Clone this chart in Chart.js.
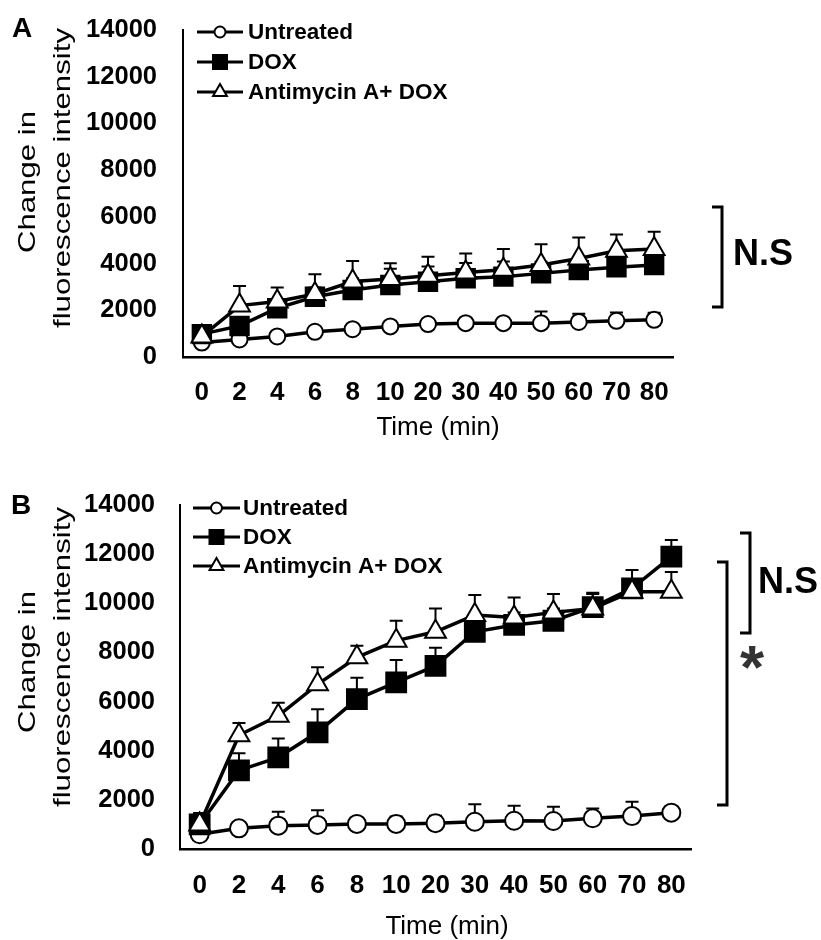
<!DOCTYPE html>
<html><head><meta charset="utf-8">
<script src="https://cdn.jsdelivr.net/npm/chart.js@4.4.1/dist/chart.umd.min.js"></script>
<style>
html,body{margin:0;padding:0;background:#fff;width:821px;height:940px;overflow:hidden}
canvas{position:absolute;left:0}
#cA{top:0}
#cB{top:470px}
</style></head><body>
<canvas id="cA" width="821" height="470" style="width:821px;height:470px"></canvas>
<canvas id="cB" width="821" height="470" style="width:821px;height:470px"></canvas>
<script>
// ---------- data ----------
const timeLabels = ['0','2','4','6','8','10','20','30','40','50','60','70','80'];
const yTickValues = [0, 2000, 4000, 6000, 8000, 10000, 12000, 14000];
const seriesNames = ['Untreated', 'DOX', 'Antimycin A+ DOX'];

// Panel A
const untreatedA     = [620, 750, 880, 1080, 1190, 1310, 1410, 1450, 1450, 1450, 1500, 1550, 1590];
const untreatedA_err = [100, 100, 100, 100, 100, 150, 150, 200, 200, 500, 350, 350, 300];
const doxA           = [980, 1330, 2090, 2580, 2870, 3080, 3220, 3370, 3440, 3580, 3720, 3840, 3940];
const doxA_err       = [200, 300, 300, 400, 500, 700, 650, 650, 650, 500, 450, 400, 400];
const antiA          = [880, 2200, 2380, 2700, 3230, 3340, 3480, 3620, 3740, 3940, 4220, 4550, 4620];
const antiA_err      = [400, 840, 600, 845, 880, 670, 810, 815, 880, 890, 900, 700, 740];

// Panel B
const untreatedB     = [600, 840, 950, 980, 1020, 1020, 1050, 1110, 1150, 1140, 1250, 1340, 1480];
const untreatedB_err = [300, 200, 570, 600, 200, 300, 300, 710, 610, 580, 400, 580, 200];
const doxB           = [1000, 3200, 3730, 4750, 6100, 6780, 7450, 8840, 9120, 9290, 9840, 10610, 11900];
const doxB_err       = [300, 700, 770, 940, 870, 910, 745, 600, 500, 500, 540, 745, 680];
const antiB          = [1000, 4630, 5420, 6700, 7800, 8480, 8840, 9520, 9420, 9630, 9790, 10470, 10470];
const antiB_err      = [470, 500, 530, 700, 475, 810, 950, 820, 820, 750, 640, 500, 800];

// ---------- helpers ----------
const FONT = '"Liberation Sans", Arial, Helvetica, sans-serif';

const errorBars = {
  id: 'errorBars',
  beforeDatasetsDraw(chart) {
    const ctx = chart.ctx, ys = chart.scales.y;
    chart.data.datasets.forEach((ds, di) => {
      if (!ds.errors) return;
      const meta = chart.getDatasetMeta(di);
      ctx.save();
      ctx.strokeStyle = '#000';
      ctx.lineWidth = 2;
      meta.data.forEach((pt, i) => {
        const v = ds.data[i], e = ds.errors[i];
        const y0 = ys.getPixelForValue(v), y1 = ys.getPixelForValue(v + e);
        ctx.beginPath();
        ctx.moveTo(pt.x, y0); ctx.lineTo(pt.x, y1);
        ctx.moveTo(pt.x - 6.5, y1); ctx.lineTo(pt.x + 6.5, y1);
        ctx.stroke();
      });
      ctx.restore();
    });
  }
};

function legendMarker(ctx, style, x, y, size, fill) {
  ctx.beginPath();
  if (style === 'circle') ctx.arc(x, y, size, 0, Math.PI * 2);
  else if (style === 'rect') ctx.rect(x - size, y - size, 2 * size, 2 * size);
  else {
    ctx.moveTo(x, y - size);
    ctx.lineTo(x + size * 0.866, y + size / 2);
    ctx.lineTo(x - size * 0.866, y + size / 2);
    ctx.closePath();
  }
  ctx.fillStyle = fill; ctx.fill();
  ctx.lineWidth = 2; ctx.strokeStyle = '#000'; ctx.stroke();
}

const decor = {
  id: 'decor',
  afterDraw(chart, args, o) {
    const ctx = chart.ctx, ys = chart.scales.y, ca = chart.chartArea;
    ctx.save();
    ctx.fillStyle = '#000';
    // panel letter
    ctx.font = 'bold 28px ' + FONT;
    ctx.textAlign = 'center'; ctx.textBaseline = 'middle';
    ctx.fillText(o.letter, o.letterX, o.letterY);
    // y axis title (two lines, rotated)
    o.yTitle.forEach(t => {
      ctx.save();
      ctx.translate(t.x, t.y);
      ctx.rotate(-Math.PI / 2);
      ctx.scale(o.yTitleStretch, 1);
      ctx.font = '24px ' + FONT;
      ctx.textAlign = 'center'; ctx.textBaseline = 'middle';
      ctx.fillText(t.text, 0, 0);
      ctx.restore();
    });
    // x axis title
    ctx.font = '26px ' + FONT;
    ctx.textAlign = 'center'; ctx.textBaseline = 'middle';
    ctx.fillText(o.xTitle, o.xTitleX, o.xTitleY);
    // legend
    const L = o.legend;
    chart.data.datasets.slice().sort((a, b) => b.order - a.order).forEach((ds, i) => {
      const y = L.ys[i];
      ctx.strokeStyle = '#000'; ctx.lineWidth = 3;
      ctx.beginPath(); ctx.moveTo(L.x0, y); ctx.lineTo(L.x1, y); ctx.stroke();
      const mx = (L.x0 + L.x1) / 2;
      const sz = ds.pointStyle === 'circle' ? 5.5 : ds.pointStyle === 'rect' ? 7 : 8;
      legendMarker(ctx, ds.pointStyle, mx, y, sz, ds.pointBackgroundColor);
      ctx.fillStyle = '#000';
      ctx.font = 'bold 22.5px ' + FONT;
      ctx.textAlign = 'left'; ctx.textBaseline = 'middle';
      ctx.fillText(ds.label, L.tx, y + 1);
    });
    // significance brackets
    o.brackets.forEach(b => {
      const x = ca.right + b.dx;
      const y0 = ys.getPixelForValue(b.from), y1 = ys.getPixelForValue(b.to);
      ctx.strokeStyle = '#000'; ctx.lineWidth = 3; ctx.lineJoin = 'miter';
      ctx.beginPath();
      ctx.moveTo(x - 10, y0); ctx.lineTo(x, y0); ctx.lineTo(x, y1); ctx.lineTo(x - 10, y1);
      ctx.stroke();
      ctx.fillStyle = b.color;
      ctx.font = b.font;
      ctx.textAlign = b.align; ctx.textBaseline = 'alphabetic';
      ctx.fillText(b.text, x + b.tdx, ys.getPixelForValue(b.tv) + b.base);
    });
    ctx.restore();
  }
};

function makeChart(id, d, cfg) {
  const common = { borderColor: '#000', borderWidth: 3.5, pointBorderColor: '#000',
                   pointBorderWidth: 2, tension: 0, fill: false };
  return new Chart(document.getElementById(id), {
    type: 'line',
    data: {
      labels: timeLabels,
      datasets: [
        Object.assign({}, common, { label: seriesNames[0], data: d.u, errors: d.ue, pointStyle: 'circle',
          pointRadius: cfg.rc, pointBackgroundColor: '#fff', order: 2 }),
        Object.assign({}, common, { label: seriesNames[1], data: d.x, errors: d.xe, pointStyle: 'rect',
          pointRadius: cfg.rr, pointBackgroundColor: '#000', order: 1 }),
        Object.assign({}, common, { label: seriesNames[2], data: d.a, errors: d.ae, pointStyle: 'triangle',
          pointRadius: cfg.rt, pointBackgroundColor: '#fff', order: 0 })
      ]
    },
    options: {
      responsive: false, animation: false, devicePixelRatio: 1, events: [],
      layout: { padding: { top: cfg.top, right: 821 - cfg.right, left: 0, bottom: 0 } },
      scales: {
        x: {
          type: 'category', offset: true,
          grid: { display: false, drawTicks: false },
          border: { display: true, color: '#000', width: 2.5 },
          ticks: { color: '#000', font: { family: FONT, size: 26, weight: 'bold' }, padding: cfg.xpad,
                   maxRotation: 0, autoSkip: false },
          afterFit: s => { s.height = 470 - cfg.bottom; s.paddingLeft = 0; s.paddingRight = 0; }
        },
        y: {
          min: 0, max: 14000,
          grid: { display: false, drawTicks: false },
          border: { display: true, color: '#000', width: 2 },
          afterBuildTicks: s => { s.ticks = yTickValues.map(v => ({ value: v })); },
          ticks: { color: '#000', font: { family: FONT, size: 25.5, weight: 'bold' }, padding: cfg.ypad,
                   callback: v => String(v) },
          afterFit: s => { s.width = cfg.left; s.paddingTop = 0; s.paddingBottom = 0; }
        }
      },
      plugins: {
        legend: { display: false }, tooltip: { enabled: false },
        decor: cfg.decor
      }
    },
    plugins: [errorBars, decor]
  });
}

makeChart('cA', { u: untreatedA, ue: untreatedA_err, x: doxA, xe: doxA_err, a: antiA, ae: antiA_err }, {
  top: 30, bottom: 357, left: 183, right: 673, xpad: 20, ypad: 26, rc: 8, rr: 13, rt: 12,
  decor: {
    letter: 'A', letterX: 22, letterY: 29,
    yTitle: [{ text: 'Change in', x: 28, y: 182 }, { text: 'fluorescence intensity', x: 63, y: 178 }],
    yTitleStretch: 1.3,
    xTitle: 'Time (min)', xTitleX: 438, xTitleY: 428,
    legend: { x0: 197, x1: 243, tx: 248, ys: [32, 62, 92] },
    brackets: [
      { from: 6420, to: 2140, dx: 49, text: 'N.S', tv: 4495, tdx: 11, base: 13, align: 'left',
        font: 'bold 36px ' + FONT, color: '#000' }
    ]
  }
});

makeChart('cB', { u: untreatedB, ue: untreatedB_err, x: doxB, xe: doxB_err, a: antiB, ae: antiB_err }, {
  top: 35, bottom: 379, left: 180, right: 691, xpad: 21, ypad: 25, rc: 9, rr: 14, rt: 12,
  decor: {
    letter: 'B', letterX: 21, letterY: 36,
    yTitle: [{ text: 'Change in', x: 28, y: 192 }, { text: 'fluorescence intensity', x: 63, y: 187 }],
    yTitleStretch: 1.3,
    xTitle: 'Time (min)', xTitleX: 447, xTitleY: 457,
    legend: { x0: 193, x1: 240, tx: 243, ys: [38, 67, 96] },
    brackets: [
      { from: 12860, to: 8790, dx: 59, text: 'N.S', tv: 10950, tdx: 8, base: 13, align: 'left',
        font: 'bold 36px ' + FONT, color: '#000' },
      { from: 11680, to: 1790, dx: 36, text: '*', tv: 7610, tdx: 25, base: 26, align: 'center',
        font: 'bold 62px ' + FONT, color: '#333' }
    ]
  }
});
</script>
</body></html>
